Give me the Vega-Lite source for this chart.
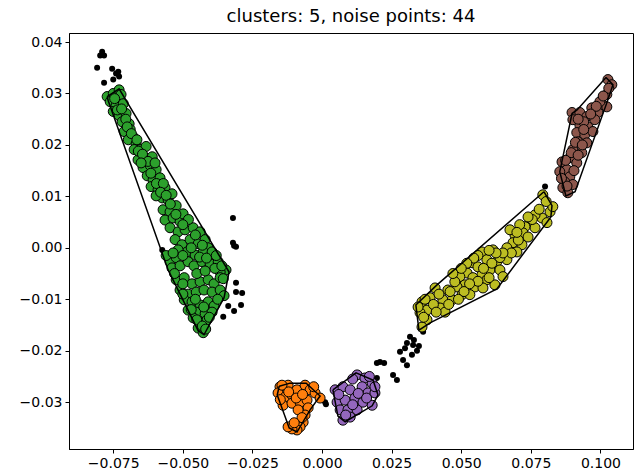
{
"$schema": "https://vega.github.io/schema/vega-lite/v6.json",
"width": 564, "height": 416,
"autosize": {"type": "none"},
"padding": {"left": 69, "top": 33, "right": 2, "bottom": 26},
"background": "white",
"view": {"stroke": "black", "strokeWidth": 1},
"title": {"text": "clusters: 5, noise points: 44", "font": "DejaVu Sans", "fontSize": 18, "fontWeight": "normal", "color": "black", "anchor": "middle", "offset": 7},
"config": {"axis": {"labelFont": "DejaVu Sans", "labelFontSize": 14, "labelColor": "black", "domainColor": "black", "tickColor": "black", "tickSize": 4, "labelPadding": 3, "grid": false, "title": null}},
"datasets": {
"pts": [
{"c":"green","x":-0.0772,"y":0.0294},{"c":"green","x":-0.0750,"y":0.0300},{"c":"green","x":-0.0729,"y":0.0307},{"c":"green","x":-0.0722,"y":0.0298},{"c":"green","x":-0.0761,"y":0.0284},{"c":"green","x":-0.0740,"y":0.0276},{"c":"green","x":-0.0714,"y":0.0280},{"c":"green","x":-0.0750,"y":0.0265},{"c":"green","x":-0.0729,"y":0.0257},{"c":"green","x":-0.0704,"y":0.0261},{"c":"green","x":-0.0718,"y":0.0245},{"c":"green","x":-0.0693,"y":0.0241},{"c":"green","x":-0.0689,"y":0.0230},{"c":"green","x":-0.0711,"y":0.0226},{"c":"green","x":-0.0679,"y":0.0216},{"c":"green","x":-0.0696,"y":0.0210},{"c":"green","x":-0.0668,"y":0.0202},{"c":"green","x":-0.0653,"y":0.0191},{"c":"green","x":-0.0632,"y":0.0197},{"c":"green","x":-0.0675,"y":0.0191},
{"c":"green","x":-0.0661,"y":0.0171},{"c":"green","x":-0.0635,"y":0.0175},{"c":"green","x":-0.0610,"y":0.0177},{"c":"green","x":-0.0643,"y":0.0156},{"c":"green","x":-0.0617,"y":0.0160},{"c":"green","x":-0.0596,"y":0.0152},{"c":"green","x":-0.0628,"y":0.0140},{"c":"green","x":-0.0607,"y":0.0132},{"c":"green","x":-0.0582,"y":0.0136},{"c":"green","x":-0.0614,"y":0.0119},{"c":"green","x":-0.0589,"y":0.0113},{"c":"green","x":-0.0564,"y":0.0117},{"c":"green","x":-0.0574,"y":0.0097},{"c":"green","x":-0.0553,"y":0.0093},{"c":"green","x":-0.0596,"y":0.0101},{"c":"green","x":-0.0539,"y":0.0105},
{"c":"green","x":-0.0571,"y":0.0074},{"c":"green","x":-0.0546,"y":0.0070},{"c":"green","x":-0.0524,"y":0.0082},{"c":"green","x":-0.0564,"y":0.0054},{"c":"green","x":-0.0535,"y":0.0058},{"c":"green","x":-0.0510,"y":0.0051},{"c":"green","x":-0.0499,"y":0.0066},{"c":"green","x":-0.0546,"y":0.0039},{"c":"green","x":-0.0517,"y":0.0031},{"c":"green","x":-0.0492,"y":0.0035},{"c":"green","x":-0.0463,"y":0.0039},{"c":"green","x":-0.0438,"y":0.0031},{"c":"green","x":-0.0528,"y":0.0016},{"c":"green","x":-0.0503,"y":0.0006},{"c":"green","x":-0.0474,"y":0.0016},{"c":"green","x":-0.0445,"y":0.0008},{"c":"green","x":-0.0420,"y":0.0016},{"c":"green","x":-0.0409,"y":0.0000},{"c":"green","x":-0.0485,"y":-0.0008},{"c":"green","x":-0.0456,"y":-0.0014},{"c":"green","x":-0.0427,"y":-0.0008},{"c":"green","x":-0.0395,"y":-0.0008},{"c":"green","x":-0.0517,"y":-0.0004},{"c":"green","x":-0.0546,"y":-0.0027},{"c":"green","x":-0.0524,"y":-0.0019},
{"c":"green","x":-0.0539,"y":-0.0039},{"c":"green","x":-0.0510,"y":-0.0035},{"c":"green","x":-0.0481,"y":-0.0027},{"c":"green","x":-0.0460,"y":-0.0035},{"c":"green","x":-0.0431,"y":-0.0027},{"c":"green","x":-0.0402,"y":-0.0031},{"c":"green","x":-0.0373,"y":-0.0027},{"c":"green","x":-0.0345,"y":-0.0043},{"c":"green","x":-0.0366,"y":-0.0047},{"c":"green","x":-0.0524,"y":-0.0062},{"c":"green","x":-0.0495,"y":-0.0058},{"c":"green","x":-0.0467,"y":-0.0070},{"c":"green","x":-0.0438,"y":-0.0066},{"c":"green","x":-0.0409,"y":-0.0062},{"c":"green","x":-0.0388,"y":-0.0070},{"c":"green","x":-0.0366,"y":-0.0058},{"c":"green","x":-0.0510,"y":-0.0082},{"c":"green","x":-0.0481,"y":-0.0090},{"c":"green","x":-0.0452,"y":-0.0086},{"c":"green","x":-0.0424,"y":-0.0082},{"c":"green","x":-0.0395,"y":-0.0086},{"c":"green","x":-0.0366,"y":-0.0082},{"c":"green","x":-0.0352,"y":-0.0093},{"c":"green","x":-0.0495,"y":-0.0101},{"c":"green","x":-0.0467,"y":-0.0105},
{"c":"green","x":-0.0438,"y":-0.0111},{"c":"green","x":-0.0409,"y":-0.0105},{"c":"green","x":-0.0388,"y":-0.0113},{"c":"green","x":-0.0481,"y":-0.0121},{"c":"green","x":-0.0452,"y":-0.0125},{"c":"green","x":-0.0420,"y":-0.0128},{"c":"green","x":-0.0395,"y":-0.0125},{"c":"green","x":-0.0463,"y":-0.0136},{"c":"green","x":-0.0438,"y":-0.0144},{"c":"green","x":-0.0413,"y":-0.0140},{"c":"green","x":-0.0445,"y":-0.0156},{"c":"green","x":-0.0427,"y":-0.0165},
{"c":"green","x":-0.0745,"y":0.0290},{"c":"green","x":-0.0735,"y":0.0268},{"c":"green","x":-0.0720,"y":0.0270},{"c":"green","x":-0.0705,"y":0.0250},{"c":"green","x":-0.0700,"y":0.0235},{"c":"green","x":-0.0685,"y":0.0222},{"c":"green","x":-0.0665,"y":0.0210},{"c":"green","x":-0.0660,"y":0.0188},{"c":"green","x":-0.0645,"y":0.0182},{"c":"green","x":-0.0625,"y":0.0168},{"c":"green","x":-0.0650,"y":0.0165},{"c":"green","x":-0.0600,"y":0.0165},{"c":"green","x":-0.0615,"y":0.0145},{"c":"green","x":-0.0595,"y":0.0125},{"c":"green","x":-0.0570,"y":0.0125},{"c":"green","x":-0.0580,"y":0.0108},{"c":"green","x":-0.0560,"y":0.0102},{"c":"green","x":-0.0545,"y":0.0085},{"c":"green","x":-0.0525,"y":0.0065},{"c":"green","x":-0.0480,"y":0.0055},{"c":"green","x":-0.0500,"y":0.0045},{"c":"green","x":-0.0455,"y":0.0025},{"c":"green","x":-0.0430,"y":0.0005},{"c":"green","x":-0.0470,"y":0.0000},{"c":"green","x":-0.0500,"y":-0.0015},{"c":"green","x":-0.0440,"y":-0.0018},{"c":"green","x":-0.0415,"y":-0.0020},{"c":"green","x":-0.0385,"y":-0.0040},{"c":"green","x":-0.0355,"y":-0.0060},{"c":"green","x":-0.0530,"y":-0.0050},{"c":"green","x":-0.0500,"y":-0.0070},{"c":"green","x":-0.0450,"y":-0.0050},{"c":"green","x":-0.0420,"y":-0.0045},{"c":"green","x":-0.0375,"y":-0.0100},{"c":"green","x":-0.0455,"y":-0.0100},{"c":"green","x":-0.0500,"y":-0.0090},{"c":"green","x":-0.0470,"y":-0.0120},{"c":"green","x":-0.0425,"y":-0.0115},{"c":"green","x":-0.0405,"y":-0.0135},{"c":"green","x":-0.0450,"y":-0.0140},{"c":"green","x":-0.0430,"y":-0.0152},{"c":"green","x":-0.0418,"y":-0.0158},{"c":"green","x":-0.0360,"y":-0.0035},{"c":"green","x":-0.0380,"y":-0.0015},{"c":"green","x":-0.0560,"y":-0.0015},{"c":"green","x":-0.0535,"y":-0.0010},
{"c":"orange","x":-0.0151,"y":-0.0270},{"c":"orange","x":-0.0122,"y":-0.0267},{"c":"orange","x":-0.0158,"y":-0.0282},{"c":"orange","x":-0.0133,"y":-0.0290},{"c":"orange","x":-0.0108,"y":-0.0286},{"c":"orange","x":-0.0090,"y":-0.0276},{"c":"orange","x":-0.0061,"y":-0.0267},{"c":"orange","x":-0.0043,"y":-0.0276},{"c":"orange","x":-0.0025,"y":-0.0282},{"c":"orange","x":-0.0007,"y":-0.0292},{"c":"orange","x":-0.0140,"y":-0.0306},{"c":"orange","x":-0.0108,"y":-0.0302},{"c":"orange","x":-0.0079,"y":-0.0300},{"c":"orange","x":-0.0054,"y":-0.0296},{"c":"orange","x":-0.0050,"y":-0.0311},{"c":"orange","x":-0.0061,"y":-0.0325},{"c":"orange","x":-0.0068,"y":-0.0339},{"c":"orange","x":-0.0079,"y":-0.0348},{"c":"orange","x":-0.0090,"y":-0.0354},{"c":"orange","x":-0.0108,"y":-0.0352},{"c":"orange","x":-0.0122,"y":-0.0348},{"c":"orange","x":-0.0086,"y":-0.0315},{"c":"orange","x":-0.0093,"y":-0.0292},{"c":"orange","x":-0.0144,"y":-0.0267},
{"c":"orange","x":-0.0120,"y":-0.0280},{"c":"orange","x":-0.0070,"y":-0.0285},{"c":"orange","x":-0.0030,"y":-0.0270},{"c":"orange","x":-0.0150,"y":-0.0295},{"c":"orange","x":-0.0072,"y":-0.0330},{"c":"orange","x":-0.0100,"y":-0.0340},
{"c":"purple","x":0.0047,"y":-0.0276},{"c":"purple","x":0.0075,"y":-0.0270},{"c":"purple","x":0.0101,"y":-0.0276},{"c":"purple","x":0.0126,"y":-0.0247},{"c":"purple","x":0.0154,"y":-0.0253},{"c":"purple","x":0.0180,"y":-0.0263},{"c":"purple","x":0.0144,"y":-0.0270},{"c":"purple","x":0.0165,"y":-0.0282},{"c":"purple","x":0.0190,"y":-0.0282},{"c":"purple","x":0.0054,"y":-0.0300},{"c":"purple","x":0.0083,"y":-0.0296},{"c":"purple","x":0.0118,"y":-0.0292},{"c":"purple","x":0.0147,"y":-0.0300},{"c":"purple","x":0.0180,"y":-0.0306},{"c":"purple","x":0.0065,"y":-0.0315},{"c":"purple","x":0.0093,"y":-0.0315},{"c":"purple","x":0.0126,"y":-0.0315},{"c":"purple","x":0.0075,"y":-0.0335},{"c":"purple","x":0.0101,"y":-0.0329},{"c":"purple","x":0.0190,"y":-0.0270},
{"c":"purple","x":0.0110,"y":-0.0255},{"c":"purple","x":0.0170,"y":-0.0250},{"c":"purple","x":0.0060,"y":-0.0285},{"c":"purple","x":0.0130,"y":-0.0283},{"c":"purple","x":0.0160,"y":-0.0292},{"c":"purple","x":0.0110,"y":-0.0305},{"c":"purple","x":0.0085,"y":-0.0325},
{"c":"olive","x":0.0793,"y":0.0103},{"c":"olive","x":0.0819,"y":0.0070},{"c":"olive","x":0.0790,"y":0.0058},{"c":"olive","x":0.0808,"y":0.0049},{"c":"olive","x":0.0747,"y":0.0049},{"c":"olive","x":0.0765,"y":0.0039},{"c":"olive","x":0.0729,"y":0.0041},{"c":"olive","x":0.0722,"y":0.0029},{"c":"olive","x":0.0740,"y":0.0021},{"c":"olive","x":0.0693,"y":0.0025},{"c":"olive","x":0.0686,"y":0.0010},{"c":"olive","x":0.0718,"y":0.0006},{"c":"olive","x":0.0664,"y":0.0000},{"c":"olive","x":0.0700,"y":-0.0008},{"c":"olive","x":0.0614,"y":-0.0004},{"c":"olive","x":0.0574,"y":-0.0008},{"c":"olive","x":0.0664,"y":-0.0023},{"c":"olive","x":0.0628,"y":-0.0027},{"c":"olive","x":0.0592,"y":-0.0023},{"c":"olive","x":0.0539,"y":-0.0029},{"c":"olive","x":0.0560,"y":-0.0037},{"c":"olive","x":0.0603,"y":-0.0043},{"c":"olive","x":0.0639,"y":-0.0043},{"c":"olive","x":0.0650,"y":-0.0056},{"c":"olive","x":0.0574,"y":-0.0053},{"c":"olive","x":0.0521,"y":-0.0049},{"c":"olive","x":0.0495,"y":-0.0056},{"c":"olive","x":0.0542,"y":-0.0058},{"c":"olive","x":0.0592,"y":-0.0062},{"c":"olive","x":0.0621,"y":-0.0072},{"c":"olive","x":0.0513,"y":-0.0072},{"c":"olive","x":0.0549,"y":-0.0076},{"c":"olive","x":0.0578,"y":-0.0078},{"c":"olive","x":0.0485,"y":-0.0076},{"c":"olive","x":0.0452,"y":-0.0082},{"c":"olive","x":0.0503,"y":-0.0091},{"c":"olive","x":0.0531,"y":-0.0091},{"c":"olive","x":0.0467,"y":-0.0101},{"c":"olive","x":0.0434,"y":-0.0101},{"c":"olive","x":0.0406,"y":-0.0078},{"c":"olive","x":0.0388,"y":-0.0097},{"c":"olive","x":0.0359,"y":-0.0105},{"c":"olive","x":0.0424,"y":-0.0117},{"c":"olive","x":0.0442,"y":-0.0125},{"c":"olive","x":0.0377,"y":-0.0121},{"c":"olive","x":0.0352,"y":-0.0126},{"c":"olive","x":0.0377,"y":-0.0140},{"c":"olive","x":0.0359,"y":-0.0154},{"c":"olive","x":0.0345,"y":-0.0115},{"c":"olive","x":0.0675,"y":0.0035},{"c":"olive","x":0.0639,"y":-0.0019},{"c":"olive","x":0.0477,"y":-0.0066},{"c":"olive","x":0.0765,"y":0.0064},{"c":"olive","x":0.0829,"y":0.0080},
{"c":"olive","x":0.0805,"y":0.0090},{"c":"olive","x":0.0780,"y":0.0075},{"c":"olive","x":0.0755,"y":0.0055},{"c":"olive","x":0.0710,"y":0.0045},{"c":"olive","x":0.0705,"y":0.0015},{"c":"olive","x":0.0680,"y":-0.0010},{"c":"olive","x":0.0650,"y":-0.0010},{"c":"olive","x":0.0625,"y":-0.0010},{"c":"olive","x":0.0600,"y":-0.0005},{"c":"olive","x":0.0560,"y":-0.0015},{"c":"olive","x":0.0545,"y":-0.0020},{"c":"olive","x":0.0610,"y":-0.0030},{"c":"olive","x":0.0580,"y":-0.0040},{"c":"olive","x":0.0520,"y":-0.0030},{"c":"olive","x":0.0500,"y":-0.0040},{"c":"olive","x":0.0470,"y":-0.0050},{"c":"olive","x":0.0560,"y":-0.0065},{"c":"olive","x":0.0600,"y":-0.0058},{"c":"olive","x":0.0530,"y":-0.0070},{"c":"olive","x":0.0460,"y":-0.0085},{"c":"olive","x":0.0420,"y":-0.0090},{"c":"olive","x":0.0400,"y":-0.0110},{"c":"olive","x":0.0370,"y":-0.0100},{"c":"olive","x":0.0410,"y":-0.0125},{"c":"olive","x":0.0365,"y":-0.0135},{"c":"olive","x":0.0455,"y":-0.0110},{"c":"olive","x":0.0490,"y":-0.0100},{"c":"olive","x":0.0510,"y":-0.0085},{"c":"olive","x":0.0740,"y":0.0060},{"c":"olive","x":0.0700,"y":0.0030},
{"c":"brown","x":0.1027,"y":0.0327},{"c":"brown","x":0.1041,"y":0.0317},{"c":"brown","x":0.1023,"y":0.0298},{"c":"brown","x":0.1009,"y":0.0278},{"c":"brown","x":0.0991,"y":0.0263},{"c":"brown","x":0.1023,"y":0.0274},{"c":"brown","x":0.0898,"y":0.0263},{"c":"brown","x":0.0926,"y":0.0263},{"c":"brown","x":0.0951,"y":0.0255},{"c":"brown","x":0.0980,"y":0.0249},{"c":"brown","x":0.0926,"y":0.0239},{"c":"brown","x":0.0955,"y":0.0235},{"c":"brown","x":0.0901,"y":0.0249},{"c":"brown","x":0.0915,"y":0.0224},{"c":"brown","x":0.0944,"y":0.0220},{"c":"brown","x":0.0973,"y":0.0226},{"c":"brown","x":0.0919,"y":0.0206},{"c":"brown","x":0.0951,"y":0.0204},{"c":"brown","x":0.0901,"y":0.0191},{"c":"brown","x":0.0933,"y":0.0185},{"c":"brown","x":0.0890,"y":0.0175},{"c":"brown","x":0.0915,"y":0.0165},{"c":"brown","x":0.0862,"y":0.0167},{"c":"brown","x":0.0880,"y":0.0152},{"c":"brown","x":0.0854,"y":0.0148},{"c":"brown","x":0.0890,"y":0.0138},{"c":"brown","x":0.0872,"y":0.0128},{"c":"brown","x":0.0901,"y":0.0123},{"c":"brown","x":0.0865,"y":0.0117},{"c":"brown","x":0.0883,"y":0.0107},{"c":"brown","x":0.0998,"y":0.0284},{"c":"brown","x":0.0969,"y":0.0272},
{"c":"brown","x":0.1030,"y":0.0310},{"c":"brown","x":0.1010,"y":0.0295},{"c":"brown","x":0.0985,"y":0.0275},{"c":"brown","x":0.0965,"y":0.0260},{"c":"brown","x":0.0940,"y":0.0245},{"c":"brown","x":0.0920,"y":0.0250},{"c":"brown","x":0.0940,"y":0.0230},{"c":"brown","x":0.0910,"y":0.0205},{"c":"brown","x":0.0935,"y":0.0200},{"c":"brown","x":0.0895,"y":0.0185},{"c":"brown","x":0.0920,"y":0.0180},{"c":"brown","x":0.0875,"y":0.0170},{"c":"brown","x":0.0880,"y":0.0120},{"c":"brown","x":0.0860,"y":0.0135},{"c":"brown","x":0.0905,"y":0.0150}
],
"noise": [
{"x":-0.0808,"y":0.0350},{"x":-0.0790,"y":0.0381},{"x":-0.0783,"y":0.0374},{"x":-0.0754,"y":0.0348},{"x":-0.0740,"y":0.0339},{"x":-0.0729,"y":0.0333},{"x":-0.0750,"y":0.0327},{"x":-0.0783,"y":0.0321},{"x":-0.0320,"y":0.0058},{"x":-0.0320,"y":0.0010},{"x":-0.0309,"y":0.0002},{"x":-0.0574,"y":-0.0004},{"x":-0.0309,"y":-0.0068},{"x":-0.0309,"y":-0.0086},{"x":-0.0287,"y":-0.0088},{"x":-0.0337,"y":-0.0113},{"x":-0.0291,"y":-0.0111},{"x":-0.0316,"y":-0.0123},{"x":-0.0355,"y":-0.0134},{"x":-0.0004,"y":-0.0294},{"x":0.0011,"y":-0.0300},{"x":0.0197,"y":-0.0224},{"x":0.0223,"y":-0.0224},{"x":0.0197,"y":-0.0253},{"x":0.0255,"y":-0.0247},{"x":0.0269,"y":-0.0257},{"x":0.0291,"y":-0.0218},{"x":0.0305,"y":-0.0228},{"x":0.0305,"y":-0.0185},{"x":0.0327,"y":-0.0189},{"x":0.0298,"y":-0.0195},{"x":0.0341,"y":-0.0200},{"x":0.0316,"y":-0.0173},{"x":0.0363,"y":-0.0163},{"x":0.0330,"y":-0.0179},{"x":0.0348,"y":-0.0191},{"x":0.0801,"y":0.0119},{"x":-0.0797,"y":0.0374},{"x":-0.0732,"y":0.0342},{"x":-0.0316,"y":0.0004},{"x":0.0280,"y":-0.0202},{"x":0.0323,"y":-0.0208},{"x":0.0208,"y":-0.0222},{"x":0.0014,"y":-0.0304}
],
"hull": [
{"c":"green","o":0,"x":-0.0772,"y":0.0294},{"c":"green","o":1,"x":-0.0729,"y":0.0309},{"c":"green","o":2,"x":-0.0334,"y":-0.0047},{"c":"green","o":3,"x":-0.0352,"y":-0.0097},{"c":"green","o":4,"x":-0.0424,"y":-0.0169},{"c":"green","o":5,"x":-0.0445,"y":-0.0161},{"c":"green","o":6,"x":-0.0553,"y":-0.0043},{"c":"green","o":7,"x":-0.0768,"y":0.0286},{"c":"green","o":8,"x":-0.0772,"y":0.0294},
{"c":"orange","o":0,"x":-0.0154,"y":-0.0269},{"c":"orange","o":1,"x":-0.0115,"y":-0.0263},{"c":"orange","o":2,"x":-0.0057,"y":-0.0263},{"c":"orange","o":3,"x":-0.0007,"y":-0.0288},{"c":"orange","o":4,"x":-0.0043,"y":-0.0315},{"c":"orange","o":5,"x":-0.0090,"y":-0.0358},{"c":"orange","o":6,"x":-0.0118,"y":-0.0350},{"c":"orange","o":7,"x":-0.0161,"y":-0.0286},{"c":"orange","o":8,"x":-0.0154,"y":-0.0269},
{"c":"purple","o":0,"x":0.0039,"y":-0.0276},{"c":"purple","o":1,"x":0.0122,"y":-0.0243},{"c":"purple","o":2,"x":0.0183,"y":-0.0257},{"c":"purple","o":3,"x":0.0201,"y":-0.0286},{"c":"purple","o":4,"x":0.0180,"y":-0.0307},{"c":"purple","o":5,"x":0.0083,"y":-0.0338},{"c":"purple","o":6,"x":0.0057,"y":-0.0327},{"c":"purple","o":7,"x":0.0039,"y":-0.0276},
{"c":"olive","o":0,"x":0.0797,"y":0.0109},{"c":"olive","o":1,"x":0.0826,"y":0.0082},{"c":"olive","o":2,"x":0.0822,"y":0.0060},{"c":"olive","o":3,"x":0.0628,"y":-0.0080},{"c":"olive","o":4,"x":0.0388,"y":-0.0146},{"c":"olive","o":5,"x":0.0348,"y":-0.0160},{"c":"olive","o":6,"x":0.0337,"y":-0.0111},{"c":"olive","o":7,"x":0.0413,"y":-0.0072},{"c":"olive","o":8,"x":0.0797,"y":0.0109},
{"c":"brown","o":0,"x":0.1020,"y":0.0331},{"c":"brown","o":1,"x":0.1045,"y":0.0317},{"c":"brown","o":2,"x":0.1027,"y":0.0288},{"c":"brown","o":3,"x":0.0909,"y":0.0109},{"c":"brown","o":4,"x":0.0876,"y":0.0101},{"c":"brown","o":5,"x":0.0854,"y":0.0148},{"c":"brown","o":6,"x":0.0898,"y":0.0261},{"c":"brown","o":7,"x":0.0916,"y":0.0268},{"c":"brown","o":8,"x":0.1020,"y":0.0331}
]
},
"layer": [
{"data": {"name": "noise"}, "mark": {"type": "circle", "color": "black", "size": 36, "opacity": 1},
 "encoding": {
  "x": {"field": "x", "type": "quantitative", "scale": {"domain": [-0.0909, 0.1117], "nice": false, "zero": false},
        "axis": {"values": [-0.075, -0.05, -0.025, 0, 0.025, 0.05, 0.075, 0.1], "labelExpr": "replace(format(datum.value, '.3f'), '-', '\u2212')"}},
  "y": {"field": "y", "type": "quantitative", "scale": {"domain": [-0.0391, 0.04175], "nice": false, "zero": false},
        "axis": {"values": [-0.03, -0.02, -0.01, 0, 0.01, 0.02, 0.03, 0.04], "labelExpr": "replace(format(datum.value, '.2f'), '-', '\u2212')"}}
 }},
{"data": {"name": "pts"}, "mark": {"type": "point", "shape": "circle", "filled": true, "size": 100, "stroke": "black", "strokeWidth": 1, "opacity": 1, "strokeOpacity": 1},
 "encoding": {
  "x": {"field": "x", "type": "quantitative"},
  "y": {"field": "y", "type": "quantitative"},
  "fill": {"field": "c", "type": "nominal", "scale": {"domain": ["green", "orange", "purple", "olive", "brown"], "range": ["#2ca02c", "#ff7f0e", "#9467bd", "#bcbd22", "#8c564b"]}, "legend": null}
 }},
{"data": {"name": "hull"}, "mark": {"type": "line", "color": "black", "strokeWidth": 1.5},
 "encoding": {
  "x": {"field": "x", "type": "quantitative"},
  "y": {"field": "y", "type": "quantitative"},
  "detail": {"field": "c", "type": "nominal"},
  "order": {"field": "o", "type": "quantitative"}
 }}
]
}
